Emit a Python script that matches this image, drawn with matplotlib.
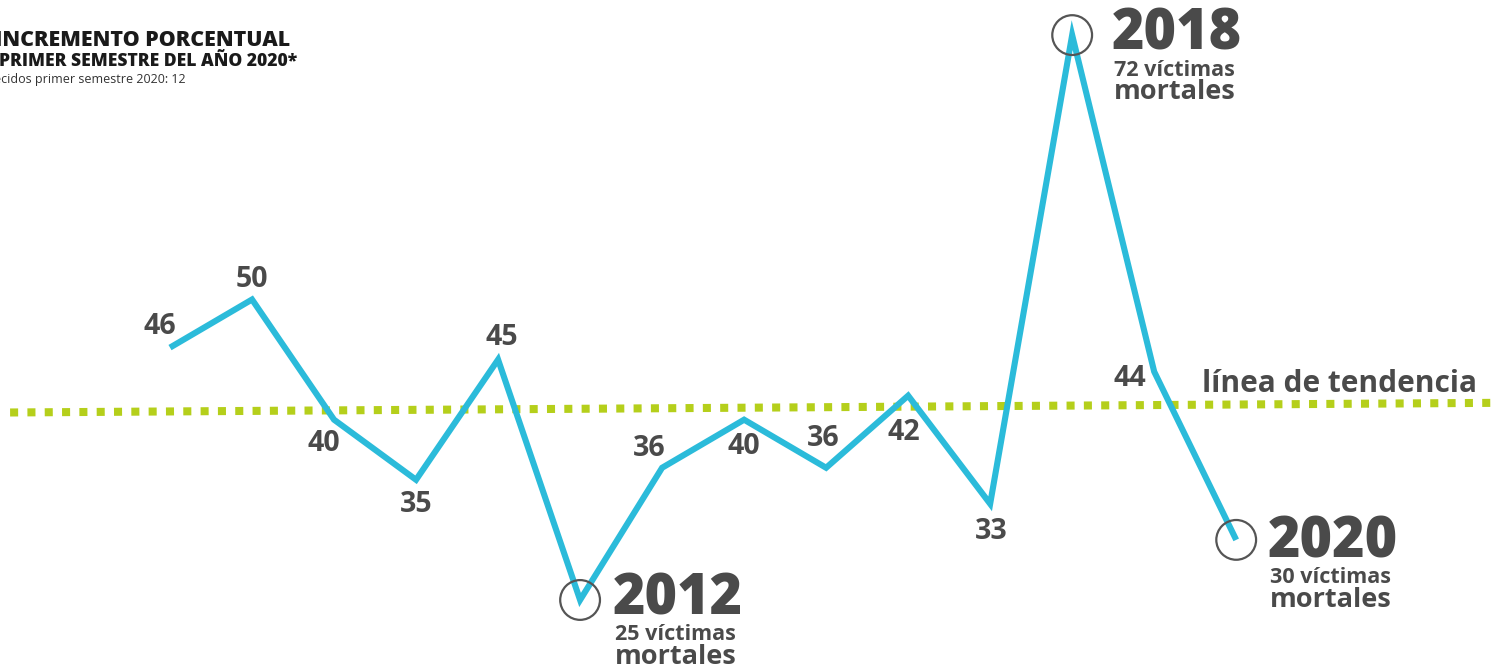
import matplotlib
matplotlib.use('Agg')
import matplotlib.pyplot as plt

# data
years = [2007, 2008, 2009, 2010, 2011, 2012, 2013, 2014, 2015, 2016, 2017, 2018, 2019, 2020]
victims = [46, 50, 40, 35, 45, 25, 36, 40, 36, 42, 33, 72, 44, 30]
highlight_years = [2012, 2018, 2020]
trend_years = [2005.05, 2023.1]
trend_values = [40.6, 41.4]

title_lines = ['INCREMENTO PORCENTUAL',
               'PRIMER SEMESTRE DEL AÑO 2020*',
               'Fallecidos primer semestre 2020: 12']
trend_label = 'línea de tendencia'

LINE = '#2bbbda'
TREND = '#b5cf1b'
TEXT = '#4a4a4a'
CIRCLE = '#555555'
FONT = 'Open Sans'

plt.rcParams['font.family'] = [FONT, 'DejaVu Sans']

fig = plt.figure(figsize=(14.97, 6.68), dpi=100)
ax = fig.add_axes([0, 0, 1, 1])
ax.set_xlim(2004.927, 2023.18)
ax.set_ylim(19.34, 74.92)
ax.axis('off')

# trend line
ax.plot(trend_years, trend_values, color=TREND, lw=5.8,
        linestyle=(0, (1, 1.15)), dash_capstyle='butt', zorder=1)

# main series
ax.plot(years, victims, color=LINE, lw=4.4, solid_joinstyle='miter',
        solid_capstyle='butt', zorder=2)

# small value labels (offsets in pixels)
offsets = {2007: (-10, 21), 2008: (0, 20), 2009: (-10, -24), 2010: (0, -25),
           2011: (4, 22), 2013: (-13, 19), 2014: (0, -27), 2015: (-3, 29),
           2016: (-4, -37), 2017: (1, -28), 2019: (-24, -7)}
for yr, v in zip(years, victims):
    if yr in offsets:
        ax.annotate(str(v), (yr, v), xytext=offsets[yr], textcoords='offset pixels',
                    ha='center', va='center', fontsize=20.5, fontweight='bold',
                    color=TEXT, zorder=4)

# highlighted years
hl_x = [yr for yr in years if yr in highlight_years]
hl_y = [v for yr, v in zip(years, victims) if yr in highlight_years]
ax.scatter(hl_x, hl_y, s=820, facecolors='none', edgecolors=CIRCLE,
           linewidths=1.6, zorder=3)
big_dx = {2012: 33, 2018: 40, 2020: 32}
big_dy = {2012: 0, 2018: 0, 2020: -3}
for yr, v in zip(hl_x, hl_y):
    dx, dy = big_dx[yr], big_dy[yr]
    ax.annotate(str(yr), (yr, v), xytext=(dx, dy), textcoords='offset pixels',
                ha='left', va='center', fontsize=40, fontweight='heavy',
                color=TEXT, zorder=4)
    ax.annotate('%d víctimas' % v, (yr, v), xytext=(dx + 2, dy - 35),
                textcoords='offset pixels', ha='left', va='center',
                fontsize=15.5, fontweight='bold', color=TEXT, zorder=4)
    ax.annotate('mortales', (yr, v), xytext=(dx + 2, dy - 57),
                textcoords='offset pixels', ha='left', va='center',
                fontsize=19.5, fontweight='bold', color=TEXT, zorder=4)

# trend label
ax.text(2019.585, 43.0, trend_label, ha='left', va='center', fontsize=21.5,
        fontweight='bold', color=TEXT)

# title block (cut at the left edge in the original)
fig.text(290 / 1497, 1 - 40 / 668, title_lines[0], ha='right', va='center',
         fontsize=15.4, fontweight='heavy', color='#1a1a1a')
fig.text(297 / 1497, 1 - 61 / 668, title_lines[1], ha='right', va='center',
         fontsize=12.6, fontweight='heavy', color='#1a1a1a')
fig.text(186 / 1497, 1 - 80 / 668, title_lines[2], ha='right', va='center',
         fontsize=9, color='#333333')

fig.savefig('out.png', dpi=100, facecolor='white')
